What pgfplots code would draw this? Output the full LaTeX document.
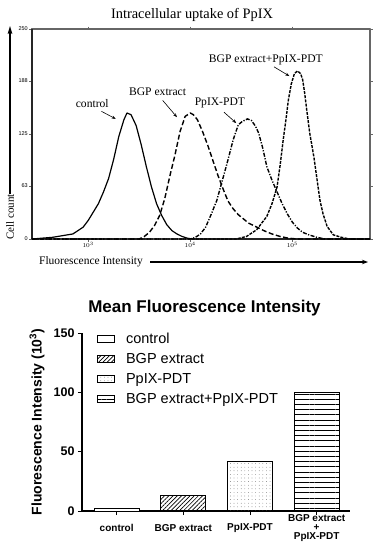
\documentclass[border=0pt]{standalone}
\usepackage{pgfplots}
\pgfplotsset{compat=1.18}
\usepackage{fontspec}
\setmainfont{Liberation Serif}
\newfontfamily\arial{Liberation Sans}
\usetikzlibrary{arrows.meta,patterns.meta}
\begin{document}
\begin{tikzpicture}
\path[use as bounding box] (0pt,0pt) rectangle (380pt,-550pt);
% ---------------- top: histogram ----------------
\node[font=\fontsize{14.4}{16}\selectfont] at (192pt,-15pt) {Intracellular uptake of PpIX};
\begin{axis}[at={(32pt,-239pt)}, anchor=south west, scale only axis,
  width=338pt, height=210pt, xmin=2.45, xmax=5.76, ymin=0, ymax=250, clip=false,
  xtick={3,4,5}, xticklabels={$10^3$,$10^4$,$10^5$},
  ytick={0,63,125,188,250},
  /pgf/number format/assume math mode=true,
  yticklabel style={font=\arial\fontsize{5.5}{6}\selectfont},
  xticklabel style={font=\fontsize{6}{6}\selectfont, yshift=1pt},
  axis line style={black!60, line width=1.3pt},
  tick style={black!60, line width=0.6pt}, tick align=outside, major tick length=2.5pt,
  every tick label/.append style={inner sep=1.5pt},
  line join=round]
\draw[black!60, line width=1.3pt] (rel axis cs:0,0) rectangle (rel axis cs:1,1);
\fill[black!85] ([xshift=-0.7pt]rel axis cs:0,0) rectangle ([xshift=0.7pt]rel axis cs:0,1);
\addplot[black, line width=1.2pt] coordinates {
(2.45,0) (2.55,1) (2.65,2) (2.75,4) (2.80,5) (2.85,6) (2.90,10) (2.95,14) (3.00,22) (3.05,32)
(3.10,42) (3.15,56) (3.20,72) (3.25,95) (3.30,122) (3.35,142) (3.38,150) (3.42,148) (3.47,135)
(3.52,112) (3.57,86) (3.62,62) (3.67,42) (3.72,28) (3.77,17) (3.82,10) (3.87,6) (3.92,3)
(3.97,1) (4.02,0) (5.76,0)};
\addplot[black, line width=1.4pt, dash pattern=on 5pt off 2.5pt] coordinates {
(2.45,0) (3.50,0) (3.55,3) (3.60,8) (3.65,16) (3.70,28) (3.75,48) (3.80,75) (3.85,100) (3.90,128)
(3.95,146) (4.00,150) (4.03,148) (4.07,142) (4.12,128) (4.17,112) (4.22,94) (4.27,76) (4.32,60)
(4.37,45) (4.42,36) (4.47,29) (4.52,24) (4.57,19) (4.62,16) (4.67,13) (4.72,10) (4.80,6)
(4.88,3) (4.96,1) (5.05,0) (5.76,0)};
\addplot[black, line width=1.4pt, dash pattern=on 4pt off 1.5pt on 1.2pt off 1.5pt] coordinates {
(2.45,0) (4.00,0) (4.05,2) (4.10,6) (4.15,14) (4.20,28) (4.26,46) (4.31,68) (4.36,90) (4.42,118)
(4.47,136) (4.51,140) (4.56,143) (4.60,141) (4.64,134) (4.67,126) (4.71,108) (4.75,86) (4.80,70)
(4.85,56) (4.90,42) (4.95,30) (5.00,20) (5.05,13) (5.10,8) (5.16,5) (5.24,2) (5.32,0) (5.76,0)};
\addplot[black, line width=1.4pt, dash pattern=on 3pt off 1.2pt] coordinates {
(2.45,0) (4.45,0) (4.55,3) (4.65,11) (4.75,27) (4.80,42) (4.85,62) (4.88,88) (4.91,118) (4.94,145)
(4.96,165) (4.99,185) (5.02,197) (5.05,200) (5.08,197) (5.10,190) (5.12,174) (5.14,154)
(5.17,126) (5.21,98) (5.24,72) (5.27,46) (5.30,30) (5.34,15) (5.40,5) (5.48,2) (5.56,0) (5.76,0)};
\begin{scope}[font=\fontsize{11.6}{13}\selectfont]
\node at (axis cs:3.04,161) {control};
\draw[-{Stealth[length=4pt,width=3pt]}, line width=0.6pt] (axis cs:3.13,152) -- (axis cs:3.27,143);
\node at (axis cs:3.68,175) {BGP extract};
\draw[-{Stealth[length=4pt,width=3pt]}, line width=0.6pt] (axis cs:3.73,165) -- (axis cs:3.87,145);
\node at (axis cs:4.29,162) {PpIX-PDT};
\draw[-{Stealth[length=4pt,width=3pt]}, line width=0.6pt] (axis cs:4.33,151) -- (axis cs:4.45,138);
\node at (axis cs:4.74,213) {BGP extract+PpIX-PDT};
\draw[-{Stealth[length=4pt,width=3pt]}, line width=0.6pt] (axis cs:4.82,205) -- (axis cs:4.97,194);
\end{scope}
\end{axis}
\node[rotate=90, font=\fontsize{11}{12}\selectfont] at (10pt,-217pt) {Cell count};
\fill[black] (9.2pt,-194pt) rectangle (10.8pt,-32pt);
\fill[black] (10pt,-26pt) -- (7.6pt,-34pt) -- (10pt,-32.5pt) -- (12.4pt,-34pt) -- cycle;
\node[font=\fontsize{11.5}{13}\selectfont] at (91pt,-262pt) {Fluorescence Intensity};
\draw[-{Stealth[length=6pt,width=4.5pt]}, line width=1.4pt] (150pt,-262pt) -- (368pt,-262pt);
% ---------------- bottom: bar chart ----------------
\node[font=\arial\bfseries\fontsize{17}{19}\selectfont] at (204.5pt,-308pt) {Mean Fluorescence Intensity};
\begin{axis}[at={(82pt,-511pt)}, anchor=south west, scale only axis,
  width=268pt, height=178pt, xmin=-0.52, xmax=3.5, ymin=0, ymax=150,
  axis x line=bottom, axis y line=left,
  axis line style={line width=1.2pt, -},
  ytick={0,50,100,150}, xtick={0,1,2,3},
  xticklabels={control, BGP extract, PpIX-PDT, {BGP extract\\+\\PpIX-PDT}},
  /pgf/number format/assume math mode=true,
  tick style={line width=1pt, black}, tick align=outside, major tick length=4pt,
  yticklabel style={font=\arial\bfseries\fontsize{12.5}{14}\selectfont},
  xticklabel style={font=\arial\bfseries\fontsize{10}{9}\selectfont, align=center, anchor=center, yshift=-13pt},
  ylabel={Fluorescence Intensity (10\textsuperscript{3})},
  every axis y label/.style={at={(rel axis cs:0,0.5)}, xshift=-45pt, rotate=90, anchor=center,
    font=\arial\bfseries\fontsize{14}{16}\selectfont},
  ybar, bar width=45pt, bar shift=0pt,
  legend style={draw=none, fill=none, anchor=north west, at={(0.045,1.02)},
    font=\arial\fontsize{14.5}{16}\selectfont, row sep=6.5pt,
    nodes={inner ysep=1pt, inner xsep=2pt},
    /tikz/every odd column/.append style={column sep=9pt}},
  legend cell align=left,
  legend image code/.code={\draw[#1, line width=0.8pt] (0pt,-3.5pt) rectangle (17pt,3.5pt);}]
\addplot[draw=black, line width=1pt, fill=white] coordinates {(0,2.5)};
\addlegendentry{control}
\addplot[draw=black, line width=1pt, pattern={Lines[angle=45,distance=3pt,line width=0.7pt]}] coordinates {(1,13)};
\addlegendentry{BGP extract}
\addplot[draw=black, line width=1pt, pattern={Dots[distance=3.6pt,radius=0.35pt]}, pattern color=black!70] coordinates {(2,42)};
\addlegendentry{PpIX-PDT}
\addplot[draw=black, line width=1pt, pattern={Lines[angle=0,distance=5.2pt,line width=0.8pt]}] coordinates {(3,100)};
\addlegendentry{BGP extract+PpIX-PDT}
\end{axis}
\end{tikzpicture}
\end{document}
